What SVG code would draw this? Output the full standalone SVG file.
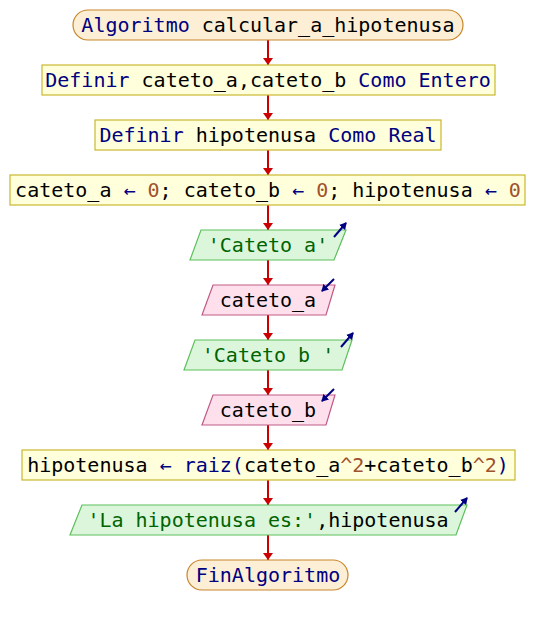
<svg xmlns="http://www.w3.org/2000/svg" width="536" height="625" viewBox="0 0 536 625">
  <defs>
    <marker id="arr" markerWidth="7" markerHeight="10" refX="7" refY="5" orient="auto" markerUnits="userSpaceOnUse">
      <path d="M0,0 L7,5 L0,10 Z" fill="#cc0000"/>
    </marker>
    <marker id="io" markerWidth="7" markerHeight="8" refX="6" refY="4" orient="auto" markerUnits="userSpaceOnUse">
      <path d="M0,0 L7,4 L0,8 Z" fill="#000080"/>
    </marker>
    <style>
      text { font-family: "DejaVu Sans Mono", "Liberation Mono", monospace; font-size: 20px; text-anchor: middle; fill: #000000; }
      .term { fill: #fdefd6; stroke: #c8862a; stroke-width: 1.2; }
      .proc { fill: #ffffdc; stroke: #c8b830; stroke-width: 1.2; }
      .out { fill: #dcf6dc; stroke: #5cc05c; stroke-width: 1.2; }
      .in { fill: #fde0ec; stroke: #c05a86; stroke-width: 1.2; }
      .kw { fill: #000080; }
      .num { fill: #a0522d; }
      .str { fill: #006400; }
      .edge { stroke: #cc0000; stroke-width: 2; fill: none; marker-end: url(#arr); }
      .iomark { stroke: #000080; stroke-width: 2; fill: none; marker-end: url(#io); }
    </style>
  </defs>

  <g id="connectors">
    <line class="edge" x1="268" y1="40" x2="268" y2="65"/>
    <line class="edge" x1="268" y1="95" x2="268" y2="120"/>
    <line class="edge" x1="268" y1="150" x2="268" y2="175"/>
    <line class="edge" x1="268" y1="205" x2="268" y2="230"/>
    <line class="edge" x1="268" y1="260" x2="268" y2="285"/>
    <line class="edge" x1="268" y1="315" x2="268" y2="340"/>
    <line class="edge" x1="268" y1="370" x2="268" y2="395"/>
    <line class="edge" x1="268" y1="425" x2="268" y2="450"/>
    <line class="edge" x1="268" y1="480" x2="268" y2="505"/>
    <line class="edge" x1="268" y1="535" x2="268" y2="560"/>
  </g>

  <g id="inicio">
    <rect class="term" x="73" y="10" width="390" height="30" rx="15" ry="15"/>
    <text x="268" y="32"><tspan class="kw">Algoritmo</tspan> calcular_a_hipotenusa</text>
  </g>

  <g id="definir1">
    <rect class="proc" x="42" y="65" width="453" height="30"/>
    <text x="268" y="87"><tspan class="kw">Definir</tspan> cateto_a,cateto_b <tspan class="kw">Como Entero</tspan></text>
  </g>

  <g id="definir2">
    <rect class="proc" x="95" y="120" width="346" height="30"/>
    <text x="268" y="142"><tspan class="kw">Definir</tspan> hipotenusa <tspan class="kw">Como Real</tspan></text>
  </g>

  <g id="asignar">
    <rect class="proc" x="10" y="175" width="515" height="30"/>
    <text x="268" y="197">cateto_a <tspan class="kw">←</tspan> <tspan class="num">0</tspan>; cateto_b <tspan class="kw">←</tspan> <tspan class="num">0</tspan>; hipotenusa <tspan class="kw">←</tspan> <tspan class="num">0</tspan></text>
  </g>

  <g id="escribir_a">
    <polygon class="out" points="201,230 346,230 334,260 190,260"/>
    <text x="268" y="252"><tspan class="str">'Cateto a'</tspan></text>
    <line class="iomark" x1="334" y1="237" x2="346" y2="223"/>
  </g>

  <g id="leer_a">
    <polygon class="in" points="213,285 335,285 326,315 202,315"/>
    <text x="268" y="307">cateto_a</text>
    <line class="iomark" x1="334" y1="279" x2="322" y2="291"/>
  </g>

  <g id="escribir_b">
    <polygon class="out" points="195,340 352,340 342,370 184,370"/>
    <text x="268" y="362"><tspan class="str">'Cateto b '</tspan></text>
    <line class="iomark" x1="341" y1="347" x2="353" y2="333"/>
  </g>

  <g id="leer_b">
    <polygon class="in" points="213,395 335,395 326,425 202,425"/>
    <text x="268" y="417">cateto_b</text>
    <line class="iomark" x1="334" y1="389" x2="322" y2="401"/>
  </g>

  <g id="calculo">
    <rect class="proc" x="22" y="450" width="493" height="30"/>
    <text x="268" y="472">hipotenusa <tspan class="kw">←</tspan> <tspan class="kw">raiz(</tspan>cateto_a<tspan class="num">^2</tspan>+cateto_b<tspan class="num">^2</tspan><tspan class="kw">)</tspan></text>
  </g>

  <g id="escribir_res">
    <polygon class="out" points="82,505 467,505 456,535 70,535"/>
    <text x="268" y="527"><tspan class="str">'La hipotenusa es:'</tspan>,hipotenusa</text>
    <line class="iomark" x1="455" y1="512" x2="467" y2="498"/>
  </g>

  <g id="fin">
    <rect class="term" x="187" y="560" width="161" height="30" rx="15" ry="15"/>
    <text x="268" y="582"><tspan class="kw">FinAlgoritmo</tspan></text>
  </g>
</svg>
